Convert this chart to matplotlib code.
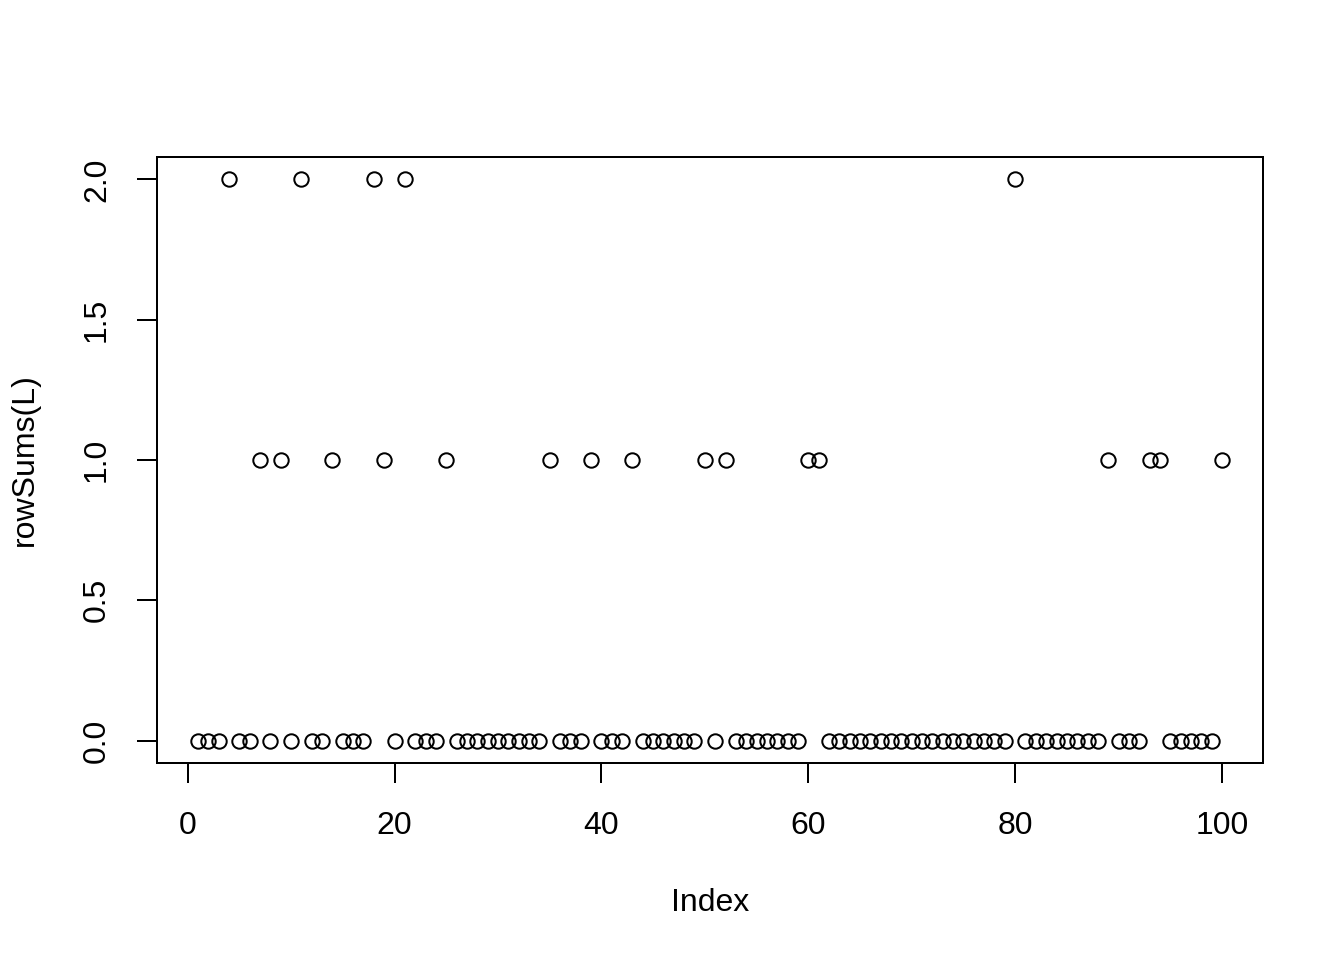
import numpy as np
import matplotlib.pyplot as plt

plt.rcParams["font.family"] = ["Liberation Sans", "DejaVu Sans"]

n_rows = 100
twos = [4, 11, 18, 21, 80]
ones = [7, 9, 14, 19, 25, 35, 39, 43, 50, 52, 60, 61, 89, 93, 94, 100]

index = np.arange(1, n_rows + 1)
row_sums = np.zeros(n_rows)
row_sums[np.array(ones) - 1] = 1
row_sums[np.array(twos) - 1] = 2

x_ticks = [0, 20, 40, 60, 80, 100]
y_ticks = [0.0, 0.5, 1.0, 1.5, 2.0]

fig = plt.figure(figsize=(7, 5), dpi=192)
ax = fig.add_axes([157 / 1344, 1 - 763 / 960, (1263 - 157) / 1344, (763 - 157) / 960])

ax.plot(
    index,
    row_sums,
    "o",
    markerfacecolor="none",
    markeredgecolor="black",
    markersize=5.4,
    markeredgewidth=0.75,
)

ax.set_xlim(1 - 0.04 * 99, 100 + 0.04 * 99)
ax.set_ylim(-0.08, 2.08)

ax.set_xticks(x_ticks)
ax.set_xticklabels([str(t) for t in x_ticks])
ax.set_yticks(y_ticks)
ax.set_yticklabels([f"{t:.1f}" for t in y_ticks], rotation=90, va="center")

for side in ["top", "right", "bottom", "left"]:
    ax.spines[side].set_visible(False)

# box around plot region (R style)
ax.patch.set_visible(False)
box = plt.Rectangle((0, 0), 1, 1, transform=ax.transAxes, fill=False, lw=0.75, color="black", clip_on=False)
ax.add_patch(box)

ax.tick_params(axis="both", length=7.5, width=0.75, labelsize=12, direction="out")
ax.tick_params(axis="x", pad=10.5)
ax.tick_params(axis="y", pad=9.4)

ax.set_xlabel("Index", fontsize=12, labelpad=17.5)
ax.set_ylabel("rowSums(L)", fontsize=12, labelpad=15.8)

fig.savefig("out.png", dpi=192)
